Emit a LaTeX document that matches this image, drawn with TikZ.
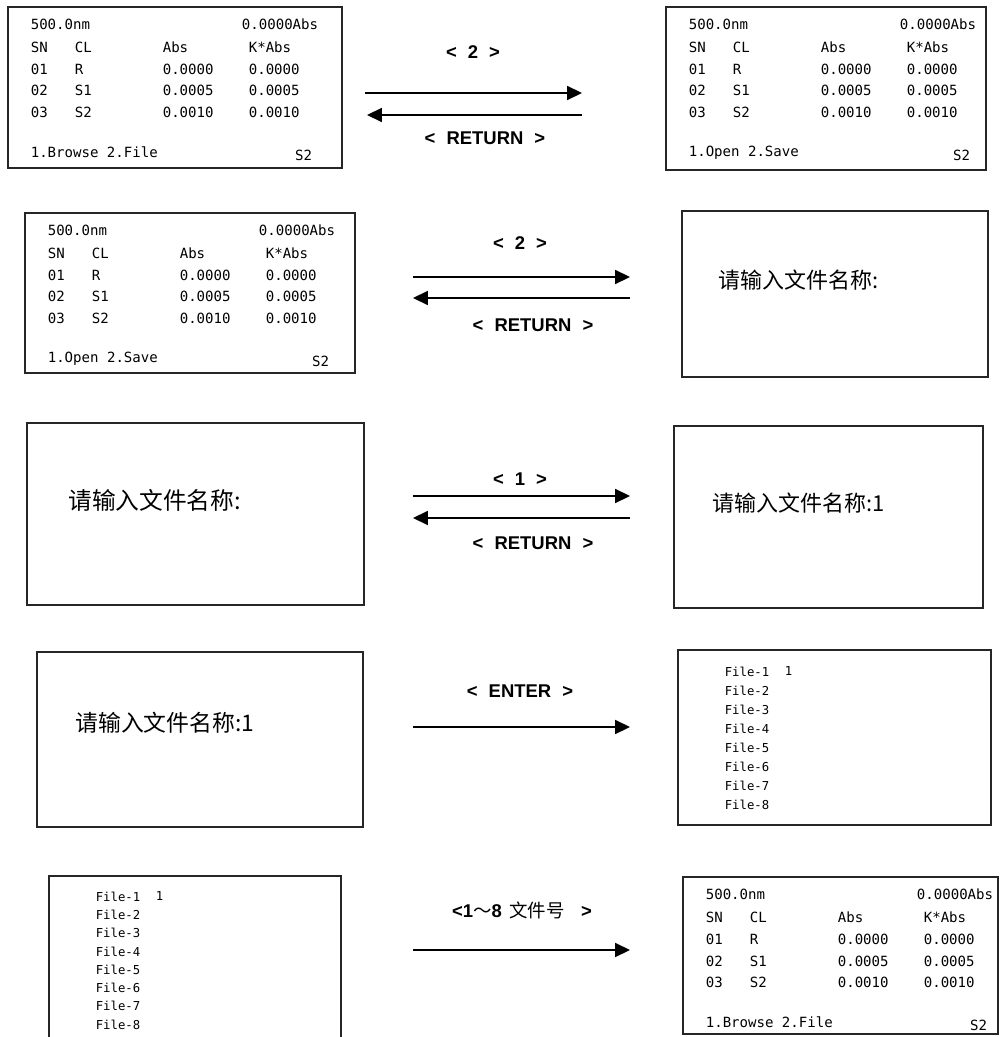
\documentclass[tikz,border=0pt]{standalone}
\usepackage{fontspec}
\setmainfont{Liberation Sans}
\setmonofont{DejaVu Sans Mono}
\newfontfamily\cjk{Noto Sans CJK SC}
\usetikzlibrary{calc}
\usetikzlibrary{arrows.meta}
\usetikzlibrary{fit}

\tikzset{
  screen/.style={draw=black!85, line width=0.6pt, inner sep=0pt, fit={#1}},
  lcd/.style={anchor=west, inner sep=0pt, font=\ttfamily\fontsize{8}{9}\selectfont},
  lcdr/.style={lcd, anchor=east},
  filelist/.style={anchor=west, inner sep=0pt, font=\ttfamily\fontsize{7}{8}\selectfont},
  prompt/.style={anchor=west, inner sep=0pt, font=\cjk\fontsize{#1}{16}\selectfont},
  prompt/.default=13pt,
  keylabel/.style={inner sep=0pt, font=\bfseries\fontsize{10.5}{12}\selectfont},
  keyarrow/.style={line width=0.9pt, -{Triangle[length=8.5pt,width=8pt]}},
}

\newcommand{\keyname}[1]{<\hspace{0.6em}#1\hspace{0.6em}>}

% screen with the absorbance table: name, x, y, width, height, menu line
\newcommand{\absscreen}[6]{
  \node[screen={(#2,#3)(#2+#4,#3+#5)}] (#1) {};
  \node[lcd]  (#1-wl)  at ($(#1.north west)+(23,18)$) {500.0nm};
  \node[lcdr] (#1-abs) at ($(#1.north west)+(311,18)$) {0.0000Abs};
  \node[lcd]  (#1-hsn) at ($(#1.north west)+(23,41)$) {SN};
  \node[lcd]  (#1-hcl) at ($(#1.north west)+(67,41)$) {CL};
  \node[lcd]  (#1-ha)  at ($(#1.north west)+(155,41)$) {Abs};
  \node[lcd]  (#1-hk)  at ($(#1.north west)+(241,41)$) {K*Abs};
  \foreach \sn/\cl/\va/\vb [count=\i] in {01/R/0.0000/0.0000, 02/S1/0.0005/0.0005, 03/S2/0.0010/0.0010} {
    \node[lcd] (#1-sn\i) at ($(#1.north west)+(23,41+21.7*\i)$) {\sn};
    \node[lcd] (#1-cl\i) at ($(#1.north west)+(67,41+21.7*\i)$) {\cl};
    \node[lcd] (#1-a\i)  at ($(#1.north west)+(155,41+21.7*\i)$) {\va};
    \node[lcd] (#1-k\i)  at ($(#1.north west)+(241,41+21.7*\i)$) {\vb};
  }
  \node[lcd]  (#1-menu) at ($(#1.north west)+(23,146)$) {#6};
  \node[lcdr] (#1-smp)  at ($(#1.north west)+(305,149)$) {S2};
}

\begin{document}
\begin{tikzpicture}[x=0.02cm, y=-0.02cm]
\clip (0,0) rectangle (1000,1037);

% row 1
\absscreen{s1}{8}{7}{334}{161}{1.Browse 2.File}
\absscreen{s2}{666}{7}{320}{163}{1.Open 2.Save}
\coordinate (r1a) at (365,93);  \coordinate (r1b) at (582,93);
\coordinate (r1c) at (582,115); \coordinate (r1d) at (367,115);
\draw[keyarrow] (r1a) -- (r1b);
\draw[keyarrow] (r1c) -- (r1d);
\node[keylabel] (k1)  at (473,52)  {\keyname{2}};
\node[keylabel] (k1r) at (485,138) {\keyname{RETURN}};

% row 2
\absscreen{s3}{25}{213}{330}{160}{1.Open 2.Save}
\node[screen={(682,211)(988,377)}] (s4) {};
\node[prompt=12.5pt] (s4-txt) at (718,280) {请输入文件名称:};
\coordinate (r2a) at (413,277); \coordinate (r2b) at (630,277);
\coordinate (r2c) at (630,298); \coordinate (r2d) at (413,298);
\draw[keyarrow] (r2a) -- (r2b);
\draw[keyarrow] (r2c) -- (r2d);
\node[keylabel] (k2)  at (520,243) {\keyname{2}};
\node[keylabel] (k2r) at (533,325) {\keyname{RETURN}};

% row 3
\node[screen={(27,423)(364,605)}] (s5) {};
\node[prompt=13.5pt] (s5-txt) at (68,500) {请输入文件名称:};
\node[screen={(674,426)(983,608)}] (s6) {};
\node[prompt=12.5pt] (s6-txt) at (712,503) {请输入文件名称:1};
\coordinate (r3a) at (413,496); \coordinate (r3b) at (630,496);
\coordinate (r3c) at (630,518); \coordinate (r3d) at (413,518);
\draw[keyarrow] (r3a) -- (r3b);
\draw[keyarrow] (r3c) -- (r3d);
\node[keylabel] (k3)  at (520,479) {\keyname{1}};
\node[keylabel] (k3r) at (533,543) {\keyname{RETURN}};

% row 4
\node[screen={(37,652)(363,827)}] (s7) {};
\node[prompt=13pt] (s7-txt) at (75,723) {请输入文件名称:1};
\node[screen={(678,650)(991,825)}] (s8) {};
\foreach \k in {1,...,8}
  \node[filelist] (s8-f\k) at ($(s8.north west)+(47,22+19*\k-19)$) {File-\k};
\node[filelist] (s8-sel) at ($(s8-f1.east)+(15,0)$) {1};
\coordinate (r4a) at (413,727); \coordinate (r4b) at (630,727);
\draw[keyarrow] (r4a) -- (r4b);
\node[keylabel] (k4) at (520,691) {\keyname{ENTER}};

% row 5
\node[screen={(49,876)(341,1060)}] (s9) {};
\foreach \k in {1,...,8}
  \node[filelist] (s9-f\k) at ($(s9.north west)+(47,21+18.3*\k-18.3)$) {File-\k};
\node[filelist] (s9-sel) at ($(s9-f1.east)+(15,0)$) {1};
\absscreen{s10}{683}{877}{315}{157}{1.Browse 2.File}
\coordinate (r5a) at (413,950); \coordinate (r5b) at (630,950);
\draw[keyarrow] (r5a) -- (r5b);
\node[keylabel] (k5) at (522,910) {<1{\cjk\mdseries ～}8\hspace{0.4em}{\cjk\mdseries 文件号}\hspace{0.9em}>};

\end{tikzpicture}
\end{document}
